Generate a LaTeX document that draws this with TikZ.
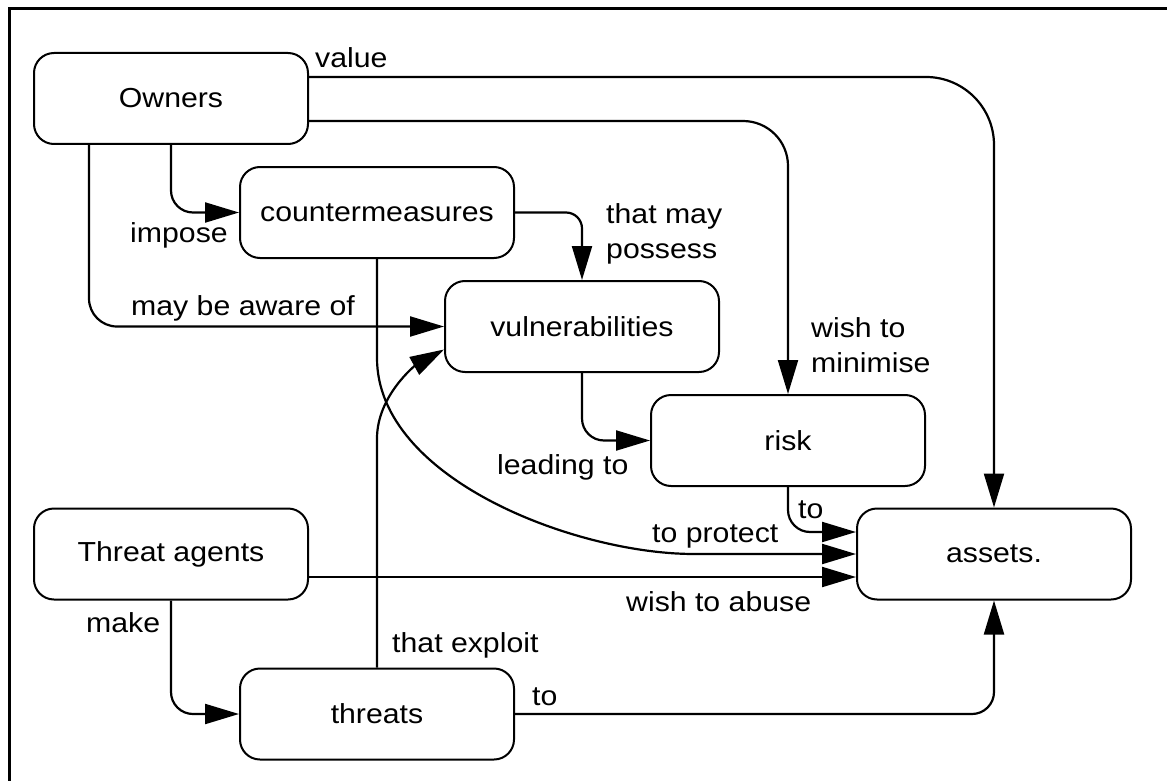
\documentclass[tikz,border=0pt]{standalone}
\usepackage{fontspec}
\setmainfont{Liberation Sans}[FakeStretch=1.1]
\usetikzlibrary{arrows.meta,calc}
\newcommand\dgmfont{\fontsize{27.5}{35}\selectfont}
\begin{document}
\begin{tikzpicture}[x=1pt,y=-1pt,
  box/.style={draw, line width=2pt, rounded corners=20pt, minimum width=274pt,
              minimum height=91pt, inner sep=0pt, font=\dgmfont},
  conn/.style={line width=2.2pt, -{Triangle[length=34pt,width=20pt]}},
  lbl/.style={inner sep=0pt, anchor=base west, font=\dgmfont},
  frame/.style={line width=2.5pt}]
\useasboundingbox (0,0) rectangle (1167,781);

% outer frame (top and left edges)
\draw[frame] (9.5,800) -- (9.5,8.5) -- (1180,8.5);

% entities
\node[box] (owners)  at (171,98.5)  {Owners};
\node[box] (cm)      at (377,212.5) {countermeasures};
\node[box] (vuln)    at (582,326.5) {vulnerabilities};
\node[box] (risk)    at (788,440.5) {risk};
\node[box] (assets)  at (994,554)   {assets.};
\node[box] (ta)      at (171,554)   {Threat agents};
\node[box] (threats) at (377,714)   {threats};

% routing levels
\coordinate (valY) at (0,77);
\coordinate (minY) at (0,121);

% relations
\draw[conn, rounded corners=68pt] (owners.east |- valY) -| (assets.north);
\draw[conn, rounded corners=45pt] (owners.east |- minY) -| (risk.north);
\draw[conn, rounded corners=22pt] (owners.south) |- (cm.west);
\draw[conn, rounded corners=28pt] ($(owners.south west)+(56,0)$) |- (vuln.west);
\draw[conn, rounded corners=16pt] (cm.east) -| (vuln.north);
\draw[conn, rounded corners=22pt] (vuln.south) |- (risk.west);
\draw[conn, rounded corners=22pt] (risk.south) |- ($(assets.west)+(0,-22)$);
\draw[conn] (cm.south) -- ($(cm.south)+(0,99)$)
  .. controls ($(cm.south)+(0,220)$) and ($(assets.west)+(-280,0)$)
  .. ($(assets.west)+(-162,0)$) -- (assets.west);
\draw[conn] (threats.north) -- ($(threats.north)+(0,-229)$)
  .. controls ($(threats.north)+(0,-272)$) and ($(vuln.west)+(-28,38.5)$)
  .. ($(vuln.west)+(0,23)$);
\draw[conn] ($(ta.east)+(0,23)$) -- ($(assets.west)+(0,23)$);
\draw[conn, rounded corners=22pt] (ta.south) |- (threats.west);
\draw[conn, rounded corners=22pt] (threats.east) -| (assets.south);

% relation labels
\node[lbl] (lvalue)   at (315,68)  {value};
\node[lbl] (limpose)  at (130,242) {impose};
\node[lbl] (laware)   at (131,315) {may be aware of};
\node[inner sep=0pt, anchor=north west, align=left, font=\dgmfont] (lposs) at (606,203) {that may\\possess};
\node[inner sep=0pt, anchor=north west, align=left, font=\dgmfont] (lmin) at (811,317) {wish to\\minimise};
\node[lbl] (llead)    at (497,474) {leading to};
\node[lbl] (lto1)     at (798,518) {to};
\node[lbl] (lprot)    at (652,542) {to protect};
\node[lbl] (labuse)   at (626,611) {wish to abuse};
\node[lbl] (lmake)    at (86,632)  {make};
\node[lbl] (lexpl)    at (392,652) {that exploit};
\node[lbl] (lto2)     at (532,705) {to};
\end{tikzpicture}
\end{document}
